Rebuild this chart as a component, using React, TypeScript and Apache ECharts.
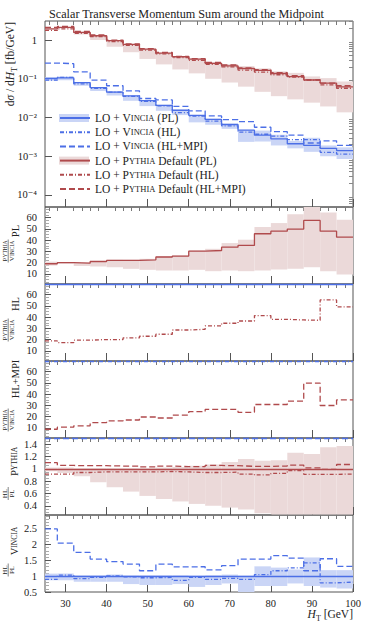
import React, { useEffect, useRef } from 'react';
import * as echarts from 'echarts';

// ---------- bins (GeV) ----------
const binEdges = [25, 28, 32, 36, 40, 44, 48, 52, 56, 60, 64, 68, 72, 76, 80, 84, 88, 92, 96, 100];

// ---------- main panel: dσ/dH_T [fb/GeV] ----------
const vinciaPL = [0.1016, 0.106, 0.080, 0.059, 0.045, 0.036, 0.0274, 0.0207, 0.0154, 0.0114, 0.0090, 0.0066, 0.0047, 0.0035, 0.0028, 0.0021, 0.0019, 0.0016, 0.0014];
const vinciaPLLo = [0.0884, 0.0922, 0.0656, 0.0484, 0.0369, 0.027, 0.0197, 0.0149, 0.01155, 0.0075, 0.0065, 0.0051, 0.00235, 0.0024, 0.0019, 0.0016, 0.0013, 0.001, 0.00085];
const vinciaPLHi = [0.11, 0.1145, 0.0824, 0.0608, 0.0473, 0.0371, 0.0282, 0.0213, 0.0159, 0.0116, 0.0093, 0.0069, 0.0048, 0.0046, 0.0036, 0.0025, 0.003, 0.0019, 0.0017];
const vinciaHL = [0.092, 0.109, 0.0736, 0.0566, 0.0455, 0.0353, 0.026, 0.0199, 0.0134, 0.0109, 0.0081, 0.0061, 0.0042, 0.0037, 0.0033, 0.0027, 0.0027, 0.00126, 0.00113];
const vinciaMPI = [0.255, 0.245, 0.15, 0.092, 0.066, 0.049, 0.031, 0.0285, 0.0195, 0.0148, 0.011, 0.0088, 0.0078, 0.0056, 0.0043, 0.0035, 0.0022, 0.0025, 0.0019];

const pythiaPL = [1.93, 2.13, 1.58, 1.29, 0.96, 0.77, 0.58, 0.46, 0.37, 0.32, 0.25, 0.216, 0.184, 0.165, 0.137, 0.113, 0.093, 0.077, 0.062];
const pythiaPLLo = [1.85, 1.98, 1.39, 1.0, 0.67, 0.485, 0.325, 0.235, 0.174, 0.138, 0.1, 0.08, 0.0626, 0.046, 0.0356, 0.0294, 0.0242, 0.0193, 0.0136];
const pythiaPLHi = [1.97, 2.17, 1.6, 1.3, 0.97, 0.78, 0.586, 0.47, 0.38, 0.336, 0.268, 0.24, 0.213, 0.186, 0.156, 0.142, 0.115, 0.104, 0.085];
const pythiaHL = [1.77, 1.95, 1.49, 1.23, 0.91, 0.73, 0.55, 0.44, 0.35, 0.30, 0.235, 0.204, 0.168, 0.149, 0.127, 0.111, 0.092, 0.070, 0.057];
const pythiaMPI = [2.12, 2.25, 1.66, 1.35, 1.0, 0.80, 0.60, 0.48, 0.38, 0.33, 0.264, 0.227, 0.191, 0.172, 0.143, 0.12, 0.094, 0.077, 0.066];

// ---------- ratio panels ----------
const ratioPL = [19, 20, 19.5, 21, 22, 22, 22.5, 25, 25.8, 30.2, 30.8, 33.8, 35.3, 45.7, 48, 49.9, 57.6, 48, 42.7];
const ratioPLLo = [17.4, 19, 17, 16.5, 16, 14.5, 13.6, 13, 13, 13.6, 12.4, 13, 12.4, 13, 13.9, 14.5, 16, 12.4, 9.4];
const ratioPLHi = [20.9, 20.5, 20, 21.3, 22.5, 22.5, 23.4, 25.5, 26.4, 30.8, 32.3, 37.4, 40.4, 51.7, 55.2, 63, 72, 64.5, 58.2];
const ratioHL = [18.9, 17.4, 19.5, 20.1, 20.1, 21.5, 23, 24.8, 28.6, 29.2, 32.2, 34.6, 36.6, 41.4, 38.1, 37.5, 37.2, 55.3, 49.1];
const ratioMPI = [8.8, 10.6, 11.8, 14.7, 16.2, 17, 19.7, 18.8, 21.4, 24.4, 26.4, 26.4, 23.8, 30.8, 30.8, 33.8, 49.9, 29.9, 34.9];

const pyHLoverPL = [0.915, 0.915, 0.94, 0.95, 0.95, 0.95, 0.95, 0.956, 0.95, 0.94, 0.94, 0.945, 0.915, 0.9, 0.925, 0.97, 0.91, 0.91, 0.915];
const pyMPIoverPL = [1.1, 1.054, 1.05, 1.05, 1.045, 1.045, 1.03, 1.045, 1.035, 1.035, 1.054, 1.05, 1.04, 1.04, 1.045, 1.06, 1.015, 0.99, 1.07];
const pyBandLo = [0.96, 0.93, 0.88, 0.78, 0.70, 0.63, 0.56, 0.51, 0.47, 0.43, 0.40, 0.37, 0.34, 0.28, 0.26, 0.26, 0.26, 0.26, 0.26];
const pyBandHi = [1.02, 1.02, 1.01, 1.01, 1.01, 1.01, 1.01, 1.02, 1.03, 1.05, 1.07, 1.11, 1.16, 1.13, 1.14, 1.26, 1.24, 1.35, 1.37];

const viHLoverPL = [0.9, 1.03, 0.92, 0.96, 1.01, 0.98, 0.95, 0.96, 0.87, 0.96, 0.9, 0.93, 0.9, 1.05, 1.17, 1.26, 1.42, 0.79, 0.81];
const viMPIoverPL = [2.49, 2.04, 1.75, 1.54, 1.46, 1.38, 1.17, 1.38, 1.29, 1.3, 1.2, 1.33, 1.54, 1.54, 1.65, 1.57, 1.17, 1.55, 1.31];
const viBandLo = [0.87, 0.87, 0.82, 0.82, 0.82, 0.75, 0.72, 0.72, 0.75, 0.66, 0.72, 0.77, 0.5, 0.69, 0.69, 0.77, 0.69, 0.64, 0.61];
const viBandHi = [1.08, 1.08, 1.03, 1.03, 1.05, 1.03, 1.03, 1.03, 1.03, 1.02, 1.03, 1.05, 1.02, 1.31, 1.27, 1.21, 1.59, 1.19, 1.19];

// ---------- ticks ----------
const xMajorTicks = [30, 40, 50, 60, 70, 80, 90, 100];
const xMinorTicks = [26, 28, 32, 34, 36, 38, 42, 44, 46, 48, 52, 54, 56, 58, 62, 64, 66, 68, 72, 74, 76, 78, 82, 84, 86, 88, 92, 94, 96, 98];
const yMainTicks = [1e-4, 1e-3, 1e-2, 1e-1, 1];
const yRatioTicks = [10, 20, 30, 40, 50, 60];
const yPyTicks = [0.4, 0.6, 0.8, 1, 1.2, 1.4];
const yViTicks = [0.5, 1, 1.5, 2, 2.5];

const legendNames = [
  'LO + Vincia (PL)',
  'LO + Vincia (HL)',
  'LO + Vincia (HL+MPI)',
  'LO + Pythia Default (PL)',
  'LO + Pythia Default (HL)',
  'LO + Pythia Default (HL+MPI)',
];

const FONT = '"Liberation Serif", "DejaVu Serif", serif';
const RED = '#b04a4c';
const BLUE = '#4c6fe6';
const RED_BAND = '#ebd9d9';
const BLUE_BAND = '#cad5f6';
const DASH = [6, 3];
const DASHDOT = [4, 2, 1, 2];
const TXT = '#222';

const yMainMinor: number[] = [];
for (let e = -5; e <= 0; e++) {
  for (let m = 2; m <= 9; m++) {
    const v = m * Math.pow(10, e);
    if (v > 4.9e-5 && v < 3.1) yMainMinor.push(v);
  }
}

function stepPoints(vals: number[]) {
  const pts = vals.map((v, i) => [binEdges[i], v]);
  pts.push([binEdges[binEdges.length - 1], vals[vals.length - 1]]);
  return pts;
}
function bandItems(lo: number[], hi: number[]) {
  return lo.map((l, i) => [binEdges[i], binEdges[i + 1], l, hi[i]]);
}
const renderBand = (color: string) => (params: any, api: any) => {
  const p0 = api.coord([api.value(0), api.value(3)]);
  const p1 = api.coord([api.value(1), api.value(2)]);
  const cs = params.coordSys;
  const shape = echarts.graphic.clipRectByRect(
    { x: p0[0], y: p0[1], width: p1[0] - p0[0], height: p1[1] - p0[1] },
    { x: cs.x, y: cs.y, width: cs.width, height: cs.height }
  );
  if (!shape) return null;
  return { type: 'rect', shape, style: { fill: color } };
};

const SUP: Record<string, string> = { '-': '\u207b', '0': '\u2070', '1': '\u00b9', '2': '\u00b2', '3': '\u00b3', '4': '\u2074', '5': '\u2075' };
function fmtPow(v: number) {
  const l = Math.log10(v);
  const e = Math.round(l);
  if (Math.abs(l - e) > 0.01) return '';
  if (e === 0) return '1';
  return '10' + String(e).split('').map((c) => SUP[c] || c).join('');
}

function bandSeries(idx: number, lo: number[], hi: number[], color: string) {
  return {
    type: 'custom',
    xAxisIndex: idx,
    yAxisIndex: idx,
    renderItem: renderBand(color),
    data: bandItems(lo, hi),
    encode: { x: [0, 1], y: [2, 3] },
    silent: true,
    z: 1,
  };
}
function lineSeries(name: string, idx: number, vals: number[], color: string, type: any, extra: any = {}) {
  return {
    type: 'line',
    name,
    xAxisIndex: idx,
    yAxisIndex: idx,
    step: 'end',
    symbol: 'none',
    showSymbol: false,
    color,
    lineStyle: { color, width: 1.3, type },
    data: stepPoints(vals),
    z: 3,
    ...extra,
  };
}
function unity(color: string, type: any) {
  return {
    markLine: {
      silent: true,
      symbol: 'none',
      label: { show: false },
      lineStyle: { color, width: 1.3, type },
      data: [{ yAxis: 1 }],
    },
  };
}

function sc(big: number, small: number) {
  return {
    a: { fontSize: big, fontFamily: FONT, fill: TXT },
    b: { fontSize: small, fontFamily: FONT, fill: TXT },
  };
}
function rtext(x: number, y: number, text: string, fontSize: number, rich?: any, align = 'center') {
  return {
    type: 'text',
    x,
    y,
    rotation: Math.PI / 2,
    silent: true,
    style: { text, fontFamily: FONT, fontSize, fill: TXT, align, verticalAlign: 'middle', rich },
  };
}
function ratioLabel(mainText: string, mainRich: any, mainY: number, mainX: number, num: string, den: string, fracRich: any, fracY: number, half: number, fracSize: number) {
  return [
    rtext(mainX, mainY, mainText, 10.5, mainRich),
    rtext(4.6, fracY, num, fracSize, fracRich),
    {
      type: 'line',
      silent: true,
      shape: { x1: 8.2, y1: fracY - half, x2: 8.2, y2: fracY + half },
      style: { stroke: '#333', lineWidth: 0.6 },
    },
    rtext(11.6, fracY, den, fracSize, fracRich),
  ];
}

function buildOption() {
  const tops = [21, 207, 284, 361, 438, 515];
  const heights = [186, 77, 77, 77, 77, 77];
  const grid = tops.map((t, i) => ({
    left: 45,
    right: 12,
    top: t,
    height: heights[i],
    show: true,
    borderColor: '#555',
    borderWidth: 1,
    backgroundColor: 'transparent',
  }));

  const xAxis: any[] = [];
  for (let i = 0; i < 6; i++) {
    xAxis.push({
      type: 'value',
      gridIndex: i,
      min: 25,
      max: 100,
      axisLine: { show: false },
      splitLine: { show: false },
      axisTick: { show: true, inside: true, length: 8, customValues: xMajorTicks, lineStyle: { color: '#555', width: 1 } },
      axisLabel: { show: i === 5, customValues: xMajorTicks, fontFamily: FONT, fontSize: 10.5, color: TXT, margin: 6 },
    });
  }
  for (let i = 0; i < 6; i++) {
    xAxis.push({
      type: 'value',
      gridIndex: i,
      min: 25,
      max: 100,
      axisLine: { show: false },
      splitLine: { show: false },
      axisTick: { show: true, inside: true, length: 4, customValues: xMinorTicks, lineStyle: { color: '#777', width: 1 } },
      axisLabel: { show: false },
    });
  }

  const yLabel = { fontFamily: FONT, fontSize: 10.5, color: TXT, margin: 8 };
  const yTick = { show: true, inside: true, length: 6, lineStyle: { color: '#555', width: 1 } };
  const yMinor = { show: true, length: 4, lineStyle: { color: '#aaa', width: 1 } };
  const yAxis: any[] = [
    {
      type: 'log', gridIndex: 0, logBase: 10, min: 4.9e-5, max: 3.1,
      axisLine: { show: false }, splitLine: { show: false },
      axisTick: { ...yTick, length: 7, customValues: yMainTicks },
      axisLabel: { ...yLabel, customValues: yMainTicks, formatter: (v: number) => fmtPow(v) },
    },
    ...[1, 2, 3].map((g) => ({
      type: 'value', gridIndex: g, min: 1, max: 69.5, splitNumber: 5,
      axisLine: { show: false }, splitLine: { show: false },
      axisTick: { ...yTick, customValues: yRatioTicks },
      minorTick: { ...yMinor, splitNumber: 4 },
      axisLabel: { ...yLabel, customValues: yRatioTicks },
    })),
    {
      type: 'value', gridIndex: 4, min: 0.25, max: 1.5, splitNumber: 6,
      axisLine: { show: false }, splitLine: { show: false },
      axisTick: { ...yTick, customValues: yPyTicks },
      minorTick: { ...yMinor, splitNumber: 4 },
      axisLabel: { ...yLabel, customValues: yPyTicks, formatter: (v: number) => String(+v.toFixed(2)) },
    },
    {
      type: 'value', gridIndex: 5, min: 0.5, max: 2.93, interval: 0.5,
      axisLine: { show: false }, splitLine: { show: false },
      axisTick: { ...yTick, customValues: yViTicks },
      minorTick: { ...yMinor, splitNumber: 5 },
      axisLabel: { ...yLabel, customValues: yViTicks, formatter: (v: number) => String(+v.toFixed(2)) },
    },
    {
      type: 'log', gridIndex: 0, logBase: 10, min: 4.9e-5, max: 3.1,
      axisLine: { show: false }, splitLine: { show: false },
      axisTick: { show: true, inside: true, length: 4, customValues: yMainMinor, lineStyle: { color: '#888', width: 1 } },
      axisLabel: { show: false },
    },
  ];

  const series: any[] = [
    // main
    bandSeries(0, pythiaPLLo, pythiaPLHi, RED_BAND),
    bandSeries(0, vinciaPLLo, vinciaPLHi, BLUE_BAND),
    lineSeries(legendNames[0], 0, vinciaPL, BLUE, 'solid'),
    lineSeries(legendNames[1], 0, vinciaHL, BLUE, DASHDOT),
    lineSeries(legendNames[2], 0, vinciaMPI, BLUE, DASH),
    lineSeries(legendNames[3], 0, pythiaPL, RED, 'solid'),
    lineSeries(legendNames[4], 0, pythiaHL, RED, DASHDOT),
    lineSeries(legendNames[5], 0, pythiaMPI, RED, DASH),
    // ratio 1
    bandSeries(1, ratioPLLo, ratioPLHi, RED_BAND),
    lineSeries('ratio PL', 1, ratioPL, RED, 'solid', unity(BLUE, 'solid')),
    // ratio 2
    lineSeries('ratio HL', 2, ratioHL, RED, DASHDOT, unity(BLUE, DASHDOT)),
    // ratio 3
    lineSeries('ratio HL+MPI', 3, ratioMPI, RED, DASH, unity(BLUE, DASH)),
    // ratio 4 (Pythia HL/PL)
    bandSeries(4, pyBandLo, pyBandHi, RED_BAND),
    lineSeries('Pythia HL/PL', 4, pyHLoverPL, RED, DASHDOT, unity(RED, 'solid')),
    lineSeries('Pythia HL+MPI/PL', 4, pyMPIoverPL, RED, DASH),
    // ratio 5 (Vincia HL/PL)
    bandSeries(5, viBandLo, viBandHi, BLUE_BAND),
    lineSeries('Vincia HL/PL', 5, viHLoverPL, BLUE, DASHDOT, unity(BLUE, 'solid')),
    lineSeries('Vincia HL+MPI/PL', 5, viMPIoverPL, BLUE, DASH),
  ];

  const legendRich = {
    a: { fontSize: 11.5, fontFamily: FONT, color: TXT, lineHeight: 14 },
    b: { fontSize: 8.5, fontFamily: FONT, color: TXT, lineHeight: 14 },
  };

  const mathRich = {
    i: { fontStyle: 'italic', fontSize: 11.5, fontFamily: FONT, fill: TXT, lineHeight: 16 },
    s: { fontSize: 8, fontFamily: FONT, fill: TXT, verticalAlign: 'bottom', lineHeight: 16 },
  };

  const graphic: any[] = [
    { type: 'rect', silent: true, shape: { x: 59, y: 114, width: 30, height: 8 }, style: { fill: BLUE_BAND }, z: 0 },
    { type: 'rect', silent: true, shape: { x: 59, y: 156.6, width: 30, height: 8 }, style: { fill: RED_BAND }, z: 0 },
    {
      type: 'text', x: 10, y: 22, rotation: Math.PI / 2, silent: true,
      style: { text: 'd{i|\u03c3} / d{i|H}{s|T} [fb/GeV]', rich: mathRich, fontFamily: FONT, fontSize: 11.5, fill: TXT, align: 'right', verticalAlign: 'middle', lineHeight: 16 },
    },
    {
      type: 'text', x: 353, y: 614, silent: true,
      style: { text: '{i|H}{s|T} [GeV]', rich: mathRich, fontFamily: FONT, fontSize: 11.5, fill: TXT, align: 'right', verticalAlign: 'middle', lineHeight: 16 },
    },
    ...ratioLabel('PL', undefined, 231, 15, '{a|P}{b|YTHIA}', '{a|V}{b|INCIA}', sc(7, 5.5), 251, 11.5, 7),
    ...ratioLabel('HL', undefined, 304, 15, '{a|P}{b|YTHIA}', '{a|V}{b|INCIA}', sc(7, 5.5), 330, 11.5, 7),
    ...ratioLabel('HL+MPI', undefined, 379, 15, '{a|P}{b|YTHIA}', '{a|V}{b|INCIA}', sc(7, 5.5), 420, 11.5, 7),
    ...ratioLabel('{a|P}{b|YTHIA}', sc(10.5, 7.5), 461.5, 14, 'HL', 'PL', undefined, 493.5, 6.5, 7),
    ...ratioLabel('{a|V}{b|INCIA}', sc(10.5, 7.5), 541, 14, 'HL', 'PL', undefined, 570, 6.5, 7),
  ];

  return {
    animation: false,
    title: {
      text: 'Scalar Transverse Momentum Sum around the Midpoint',
      left: 44,
      top: 3,
      textStyle: { fontFamily: FONT, fontSize: 12.2, fontWeight: 'normal', color: TXT },
    },
    legend: {
      show: true,
      orient: 'vertical',
      left: 59,
      top: 111,
      padding: 0,
      itemGap: 0.2,
      itemWidth: 30,
      itemHeight: 14,
      data: legendNames,
      selectedMode: false,
      itemStyle: { opacity: 0 },
      formatter: (name: string) =>
        name.replace('Vincia', '{a|V}{b|INCIA}').replace('Pythia', '{a|P}{b|YTHIA}'),
      textStyle: { fontFamily: FONT, fontSize: 11.5, color: TXT, lineHeight: 14, rich: legendRich },
    },
    grid,
    xAxis,
    yAxis,
    series,
    graphic,
  };
}

export default function App() {
  const ref = useRef<HTMLDivElement>(null);
  useEffect(() => {
    const chart = echarts.init(ref.current!, null, { renderer: 'svg' });
    chart.setOption(buildOption() as any);
    return () => chart.dispose();
  }, []);
  return <div ref={ref} style={{ position: 'absolute', left: 0, top: 0, width: 365, height: 623, background: '#fff' }} />;
}
